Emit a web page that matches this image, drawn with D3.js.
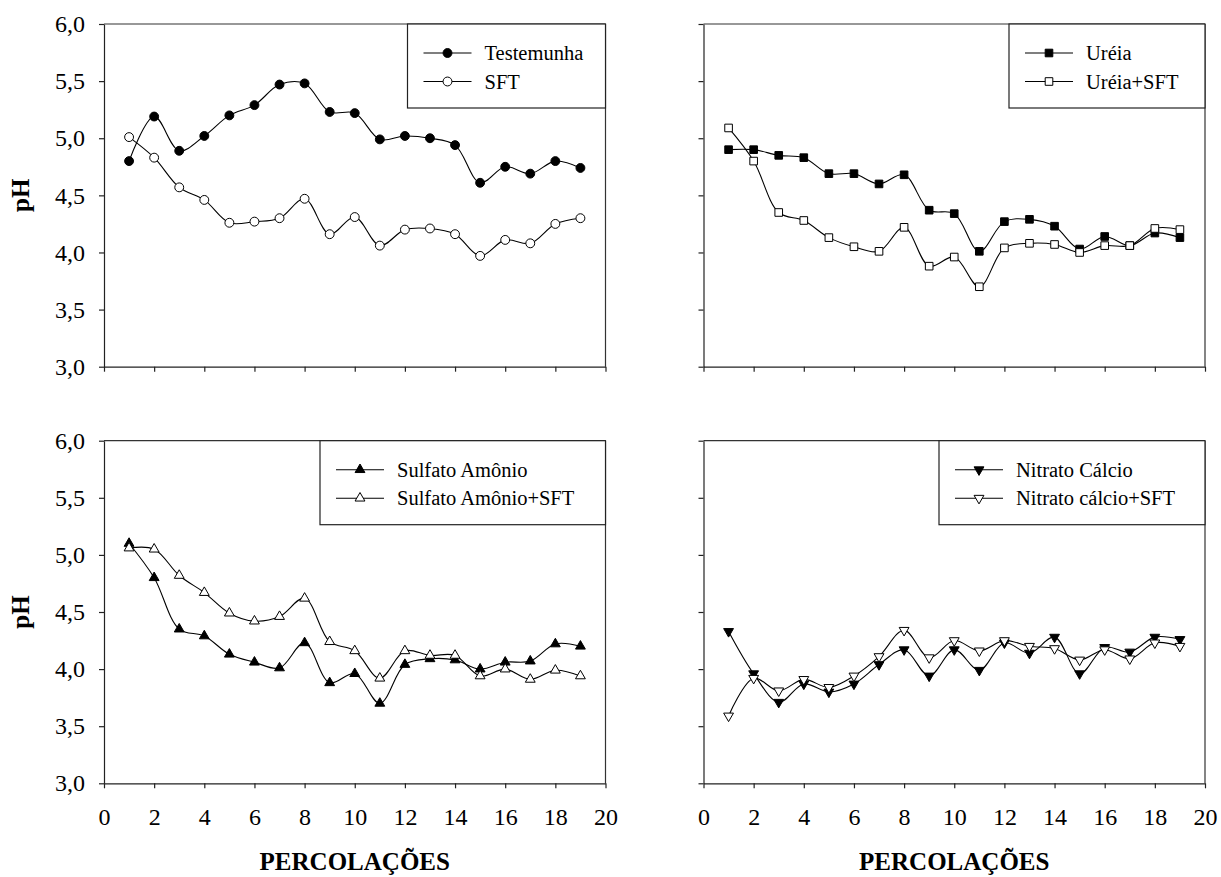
<!DOCTYPE html>
<html><head><meta charset="utf-8">
<script src="https://cdn.jsdelivr.net/npm/d3@7"></script>
<style>
body{margin:0;background:#fff;}
svg text{font-family:"Times New Roman","Liberation Serif","DejaVu Serif",serif !important;fill:#000;}
</style></head>
<body><svg id="c" width="1221" height="877"></svg>
<script>
// ---- data ----
const percolacoes = [1,2,3,4,5,6,7,8,9,10,11,12,13,14,15,16,17,18,19];
const testemunha = [4.80,5.19,4.89,5.02,5.20,5.29,5.47,5.48,5.23,5.22,4.99,5.02,5.00,4.94,4.61,4.75,4.69,4.80,4.74];
const sft        = [5.01,4.83,4.57,4.46,4.26,4.27,4.30,4.47,4.16,4.31,4.06,4.20,4.21,4.16,3.97,4.11,4.08,4.25,4.30];
const ureia      = [4.90,4.90,4.85,4.83,4.69,4.69,4.60,4.68,4.37,4.34,4.01,4.27,4.29,4.23,4.03,4.14,4.06,4.17,4.13];
const ureiaSft   = [5.09,4.80,4.35,4.28,4.13,4.05,4.01,4.22,3.88,3.96,3.70,4.04,4.08,4.07,4.00,4.06,4.06,4.21,4.20];
const sulfato    = [5.10,4.80,4.35,4.29,4.13,4.06,4.01,4.23,3.88,3.96,3.70,4.04,4.09,4.08,4.00,4.06,4.07,4.22,4.20];
const sulfatoSft = [5.06,5.05,4.82,4.67,4.49,4.42,4.46,4.62,4.24,4.16,3.92,4.16,4.12,4.12,3.94,4.00,3.91,3.99,3.94];
const nitrato    = [4.33,3.96,3.71,3.87,3.80,3.87,4.04,4.17,3.94,4.17,3.99,4.23,4.14,4.28,3.96,4.19,4.15,4.28,4.26];
const nitratoSft = [3.59,3.92,3.81,3.91,3.84,3.94,4.11,4.34,4.10,4.25,4.16,4.25,4.20,4.18,4.08,4.17,4.09,4.23,4.20];
const xTicks = [0,2,4,6,8,10,12,14,16,18,20];
const yTicks = [3.0,3.5,4.0,4.5,5.0,5.5,6.0];
const xTitle = "PERCOLAÇÕES";
const yTitle = "pH";

// ---- layout ----
const SERIF = '"Times New Roman","Liberation Serif","DejaVu Serif",serif';
const svg = d3.select("#c").attr("font-family", SERIF);
const fmt = d3.formatLocale({decimal:",",thousands:".",grouping:[3],currency:["",""]}).format(".1f");
const FONT = 24;

const panels = [
  {x0:104, x1:605.5, y0:24, y1:366.7, xLabels:false, yLabels:true,
   series:[{name:"Testemunha", v:testemunha, sym:"circle", fill:"#000"},
           {name:"SFT", v:sft, sym:"circle", fill:"#fff"}], legendX:407.5},
  {x0:703.5, x1:1205, y0:24, y1:366.7, xLabels:false, yLabels:false,
   series:[{name:"Uréia", v:ureia, sym:"square", fill:"#000"},
           {name:"Uréia+SFT", v:ureiaSft, sym:"square", fill:"#fff"}], legendX:1009},
  {x0:104, x1:605.5, y0:440.7, y1:783.3, xLabels:true, yLabels:true,
   series:[{name:"Sulfato Amônio", v:sulfato, sym:"up", fill:"#000"},
           {name:"Sulfato Amônio+SFT", v:sulfatoSft, sym:"up", fill:"#fff"}], legendX:320},
  {x0:703.5, x1:1205, y0:440.7, y1:783.3, xLabels:true, yLabels:false,
   series:[{name:"Nitrato Cálcio", v:nitrato, sym:"down", fill:"#000"},
           {name:"Nitrato cálcio+SFT", v:nitratoSft, sym:"down", fill:"#fff"}], legendX:939}
];

function symPath(sym){
  if(sym==="circle") return d3.symbol(d3.symbolCircle, 62)();
  if(sym==="square") return d3.symbol(d3.symbolSquare, 58)();
  return d3.symbol(d3.symbolTriangle, 42)();
}
function drawMarker(g, sym, fill, x, y){
  g.append("path").attr("d", symPath(sym))
   .attr("transform", `translate(${x},${y})` + (sym==="down" ? " rotate(180)" : ""))
   .attr("fill", fill).attr("stroke","#000").attr("stroke-width",1);
}

panels.forEach(p => {
  const x = d3.scaleLinear().domain([0,20]).range([p.x0,p.x1]);
  const y = d3.scaleLinear().domain([3,6]).range([p.y1,p.y0]);
  const g = svg.append("g");

  g.append("line").attr("x1",p.x0).attr("x2",p.x1).attr("y1",p.y0).attr("y2",p.y0).attr("stroke","#333").attr("stroke-width",1.2);
  g.append("line").attr("x1",p.x1).attr("x2",p.x1).attr("y1",p.y0).attr("y2",p.y1).attr("stroke","#333").attr("stroke-width",1.2);

  const xa = g.append("g").attr("transform",`translate(0,${p.y1})`)
    .call(d3.axisBottom(x).tickValues(xTicks).tickSize(5).tickSizeOuter(0).tickPadding(20)
      .tickFormat(p.xLabels ? d3.format("d") : ""));
  const ya = g.append("g").attr("transform",`translate(${p.x0},0)`)
    .call(d3.axisLeft(y).tickValues(yTicks).tickSize(5).tickSizeOuter(0).tickPadding(14)
      .tickFormat(p.yLabels ? fmt : ""));
  [xa,ya].forEach(a=>{
    a.attr("font-family", SERIF).attr("font-size", FONT);
    a.selectAll("path,line").attr("stroke","#222").attr("stroke-width",1.2);
    a.selectAll("text").attr("font-size",FONT).attr("fill","#000");
  });

  const line = d3.line().x((d,i)=>x(percolacoes[i])).y(d=>y(d)).curve(d3.curveCatmullRom.alpha(0.5));
  p.series.forEach(s=>{
    g.append("path").attr("d", line(s.v)).attr("fill","none").attr("stroke","#000").attr("stroke-width",1.1);
    s.v.forEach((v,i)=> drawMarker(g, s.sym, s.fill, x(percolacoes[i]), y(v)));
  });

  const lx = p.legendX, ly = p.y0;
  g.append("rect").attr("x",lx).attr("y",ly).attr("width",p.x1-lx).attr("height",84)
    .attr("fill","#fff").attr("stroke","#222").attr("stroke-width",1.2);
  p.series.forEach((s,k)=>{
    const yy = ly + 29 + k*28.5;
    g.append("line").attr("x1",lx+16).attr("x2",lx+64).attr("y1",yy).attr("y2",yy).attr("stroke","#000").attr("stroke-width",1.1);
    drawMarker(g, s.sym, s.fill, lx+40, yy);
    g.append("text").attr("x",lx+77).attr("y",yy).attr("dy","0.35em").attr("font-size",20.5).text(s.name);
  });

  if(p.xLabels){
    g.append("text").attr("x",(p.x0+p.x1)/2).attr("y",870).attr("text-anchor","middle")
      .attr("font-size",25).attr("font-weight","bold").text(xTitle);
  }
  if(p.yLabels){
    const cy=(p.y0+p.y1)/2;
    g.append("text").attr("transform",`translate(29,${cy}) rotate(-90)`).attr("text-anchor","middle")
      .attr("font-size",25).attr("font-weight","bold").text(yTitle);
  }
});
</script></body></html>
